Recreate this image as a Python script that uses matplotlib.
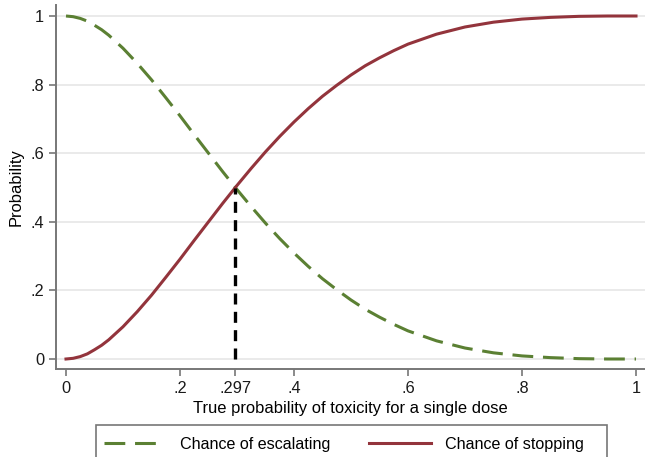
import matplotlib
matplotlib.use("Agg")
import matplotlib.pyplot as plt
from matplotlib.patches import Rectangle

plt.rcParams['font.family'] = ['Liberation Sans', 'DejaVu Sans']

# True probability of toxicity (x) and read-off probabilities
p_tox = [0.0, 0.0125, 0.025, 0.0375, 0.05, 0.0625, 0.075, 0.1, 0.125, 0.15, 0.175, 0.2,
         0.225, 0.25, 0.275, 0.3, 0.325, 0.35, 0.375, 0.4, 0.425, 0.45, 0.475, 0.5,
         0.525, 0.55, 0.575, 0.6, 0.65, 0.7, 0.75, 0.8, 0.85, 0.9, 0.95, 1.0]
escalate = [1.0, 0.998, 0.993, 0.985, 0.973, 0.960, 0.944, 0.906, 0.862, 0.814, 0.762, 0.709,
            0.654, 0.600, 0.546, 0.494, 0.444, 0.396, 0.351, 0.309, 0.270, 0.234, 0.202, 0.172,
            0.145, 0.122, 0.101, 0.082, 0.053, 0.032, 0.018, 0.009, 0.004, 0.001, 0.0, 0.0]
stopping = [0.0, 0.002, 0.007, 0.015, 0.027, 0.040, 0.056, 0.094, 0.138, 0.186, 0.238, 0.291,
            0.346, 0.400, 0.454, 0.506, 0.556, 0.604, 0.649, 0.691, 0.730, 0.766, 0.798, 0.828,
            0.855, 0.878, 0.899, 0.918, 0.947, 0.968, 0.982, 0.991, 0.996, 0.999, 1.0, 1.0]
crossing_x = 0.297
crossing_y = 0.5
x_ticks = [0, 0.2, 0.297, 0.4, 0.6, 0.8, 1]
x_ticklabels = ['0', '.2', '.297', '.4', '.6', '.8', '1']
y_ticks = [0, 0.2, 0.4, 0.6, 0.8, 1]
y_ticklabels = ['0', '.2', '.4', '.6', '.8', '1']

W, H = 645, 457
fig = plt.figure(figsize=(W / 100, H / 100), dpi=100)
# axes box in pixels: left 56, right 645, top 5, bottom 369
ax = fig.add_axes([56 / W, (H - 369) / H, (645 - 56) / W, (369 - 5) / H])

green = '#5b8033'
red = '#93343c'

ax.plot(p_tox, escalate, color=green, lw=2.2, dashes=(6.8, 3.2), label='Chance of escalating')
ax.plot(p_tox, stopping, color=red, lw=2.2, label='Chance of stopping')
ax.plot([crossing_x, crossing_x], [0, crossing_y], color='black', lw=2.4, dashes=(3.3, 2.2))

x0, x1 = 66, 636
ax.set_xlim(-(x0 - 56) / (x1 - x0), 1 + (645 - x1) / (x1 - x0))
y0, y1 = 359, 16
ax.set_ylim(-(369 - y0) / (y0 - y1), 1 + (y1 - 5) / (y0 - y1))

ax.set_xticks(x_ticks)
ax.set_xticklabels(x_ticklabels)
ax.set_yticks(y_ticks)
ax.set_yticklabels(y_ticklabels)
ax.grid(axis='y', color='#e6e6e6', lw=1.2)
ax.set_axisbelow(True)

for s in ['top', 'right']:
    ax.spines[s].set_visible(False)
for s in ['left', 'bottom']:
    ax.spines[s].set_color('#777777')
    ax.spines[s].set_linewidth(1.4)
ax.tick_params(axis='both', colors='#777777', labelcolor='#1a1a1a', labelsize=11.8,
               length=5, width=1.2)

ax.set_xlabel('True probability of toxicity for a single dose', fontsize=11.9, labelpad=4)
ax.set_ylabel('Probability', fontsize=11.9, labelpad=5)

leg = fig.legend(loc='lower left', bbox_to_anchor=(96 / W, -3 / H, (592 - 96) / W, 36 / H),
                 mode='expand', ncol=2, frameon=False, fontsize=11.6,
                 handlelength=3.8, handletextpad=0.9, borderpad=0.5, borderaxespad=0,
                 columnspacing=3)
fig.patches.append(Rectangle((96 / W, -5 / H), (607 - 96) / W, (H - 425 + 5) / H,
                             transform=fig.transFigure, fill=False,
                             edgecolor='#777777', linewidth=1.2))

fig.savefig('out.png', dpi=100, facecolor='white')
